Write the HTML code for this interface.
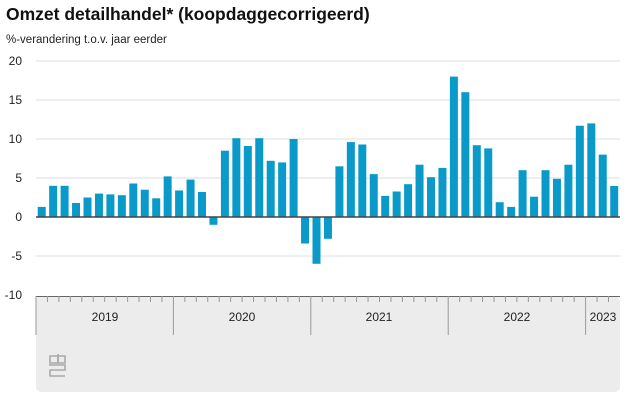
<!DOCTYPE html>
<html><head><meta charset="utf-8"><style>
html,body{margin:0;padding:0;background:#fff;width:627px;height:401px;overflow:hidden}
svg{display:block;font-family:"Liberation Sans",sans-serif}
</style></head><body>
<svg width="627" height="401" viewBox="0 0 627 401">
<text x="6" y="20" font-size="17.5" font-weight="bold" fill="#111">Omzet detailhandel* (koopdaggecorrigeerd)</text>
<text x="6" y="43" font-size="11.5" fill="#222">%-verandering t.o.v. jaar eerder</text>
<rect x="36" y="296" width="584" height="96" rx="5" fill="#ececec"/>
<g stroke="#dedede" stroke-width="1">
<line x1="36" x2="620" y1="61" y2="61"/><line x1="36" x2="620" y1="100" y2="100"/>
<line x1="36" x2="620" y1="139" y2="139"/><line x1="36" x2="620" y1="178" y2="178"/>
<line x1="36" x2="620" y1="256" y2="256"/>
</g>
<g font-size="12" fill="#222" text-anchor="end">
<text x="22" y="65">20</text><text x="22" y="104">15</text><text x="22" y="143">10</text>
<text x="22" y="182">5</text><text x="22" y="221">0</text><text x="22" y="260">-5</text><text x="22" y="299">-10</text>
</g>
<g fill="#0a9ac9">
<rect x="37.7" y="206.9" width="8" height="10.1"/>
<rect x="49.15" y="185.8" width="8" height="31.2"/>
<rect x="60.6" y="185.8" width="8" height="31.2"/>
<rect x="72.05" y="203" width="8" height="14"/>
<rect x="83.5" y="197.5" width="8" height="19.5"/>
<rect x="94.95" y="193.6" width="8" height="23.4"/>
<rect x="106.4" y="194.4" width="8" height="22.6"/>
<rect x="117.85" y="195.2" width="8" height="21.8"/>
<rect x="129.3" y="183.5" width="8" height="33.5"/>
<rect x="140.75" y="189.7" width="8" height="27.3"/>
<rect x="152.2" y="198.3" width="8" height="18.7"/>
<rect x="163.65" y="176.4" width="8" height="40.6"/>
<rect x="175.1" y="190.5" width="8" height="26.5"/>
<rect x="186.55" y="179.6" width="8" height="37.4"/>
<rect x="198" y="192" width="8" height="25"/>
<rect x="209.45" y="217" width="8" height="7.8"/>
<rect x="220.9" y="150.7" width="8" height="66.3"/>
<rect x="232.35" y="138.2" width="8" height="78.8"/>
<rect x="243.8" y="146" width="8" height="71"/>
<rect x="255.25" y="138.2" width="8" height="78.8"/>
<rect x="266.7" y="160.8" width="8" height="56.2"/>
<rect x="278.15" y="162.4" width="8" height="54.6"/>
<rect x="289.6" y="139" width="8" height="78"/>
<rect x="301.05" y="217" width="8" height="26.5"/>
<rect x="312.5" y="217" width="8" height="46.8"/>
<rect x="323.95" y="217" width="8" height="21.8"/>
<rect x="335.4" y="166.3" width="8" height="50.7"/>
<rect x="346.85" y="142.1" width="8" height="74.9"/>
<rect x="358.3" y="144.5" width="8" height="72.5"/>
<rect x="369.75" y="174.1" width="8" height="42.9"/>
<rect x="381.2" y="195.9" width="8" height="21.1"/>
<rect x="392.65" y="191.5" width="8" height="25.5"/>
<rect x="404.1" y="184.2" width="8" height="32.8"/>
<rect x="415.55" y="164.7" width="8" height="52.3"/>
<rect x="427" y="177.2" width="8" height="39.8"/>
<rect x="438.45" y="167.9" width="8" height="49.1"/>
<rect x="449.9" y="76.6" width="8" height="140.4"/>
<rect x="461.35" y="92.2" width="8" height="124.8"/>
<rect x="472.8" y="145.2" width="8" height="71.8"/>
<rect x="484.25" y="148.4" width="8" height="68.6"/>
<rect x="495.7" y="202.2" width="8" height="14.8"/>
<rect x="507.15" y="206.9" width="8" height="10.1"/>
<rect x="518.6" y="170.2" width="8" height="46.8"/>
<rect x="530.05" y="196.7" width="8" height="20.3"/>
<rect x="541.5" y="170.2" width="8" height="46.8"/>
<rect x="552.95" y="178.8" width="8" height="38.2"/>
<rect x="564.4" y="164.7" width="8" height="52.3"/>
<rect x="575.85" y="125.7" width="8" height="91.3"/>
<rect x="587.3" y="123.4" width="8" height="93.6"/>
<rect x="598.75" y="154.6" width="8" height="62.4"/>
<rect x="610.2" y="186" width="8" height="31"/>
</g>
<line x1="36" x2="620" y1="217" y2="217" stroke="#444" stroke-width="1.5"/>
<line x1="36" x2="620" y1="296.5" y2="296.5" stroke="#666" stroke-width="1"/>
<g stroke="#999" stroke-width="1">
<path d="M36 296V335M47.45 296v6M58.9 296v6M70.35 296v6M81.8 296v6M93.25 296v6M104.7 296v6M116.15 296v6M127.6 296v6M139.05 296v6M150.5 296v6M161.95 296v6M173.4 296V335M184.85 296v6M196.3 296v6M207.75 296v6M219.2 296v6M230.65 296v6M242.1 296v6M253.55 296v6M265 296v6M276.45 296v6M287.9 296v6M299.35 296v6M310.8 296V335M322.25 296v6M333.7 296v6M345.15 296v6M356.6 296v6M368.05 296v6M379.5 296v6M390.95 296v6M402.4 296v6M413.85 296v6M425.3 296v6M436.75 296v6M448.2 296V335M459.65 296v6M471.1 296v6M482.55 296v6M494 296v6M505.45 296v6M516.9 296v6M528.35 296v6M539.8 296v6M551.25 296v6M562.7 296v6M574.15 296v6M585.6 296V335M597.05 296v6M608.5 296v6"/>
</g>
<g font-size="12" fill="#222" text-anchor="middle">
<text x="105" y="321">2019</text><text x="242" y="321">2020</text><text x="379" y="321">2021</text>
<text x="517" y="321">2022</text><text x="603" y="321">2023</text>
</g>
<g fill="none" stroke="#aaa" stroke-width="1.6">
<path d="M50 356h8v7h-8zM49 365h16v5h-15v6h15"/><path d="M58 354v9h7v-7h-7"/>
</g>
</svg>
</body></html>
